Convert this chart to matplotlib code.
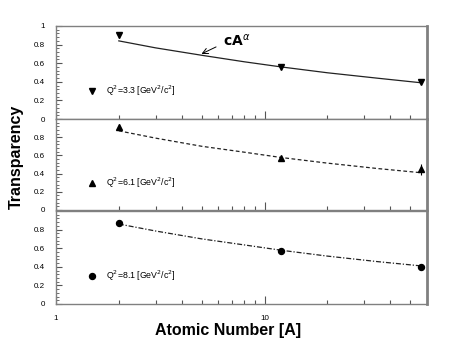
import matplotlib
matplotlib.use("Agg")
import matplotlib.pyplot as plt
from matplotlib.ticker import FixedLocator, MultipleLocator, NullFormatter
import numpy as np

# measured points
A_DATA = [2, 12, 56]
T_Q33 = [0.90, 0.56, 0.40]
E_Q33 = [0.03, 0.02, 0.02]
T_Q61 = [0.91, 0.57, 0.45]
E_Q61 = [0.03, 0.02, 0.06]
T_Q81 = [0.87, 0.57, 0.40]
E_Q81 = [0.02, 0.02, 0.02]

# cA^alpha curves
A_FIT = [2, 3, 5, 8, 12, 20, 35, 56]
FIT_Q33 = [0.84, 0.765, 0.685, 0.615, 0.560, 0.497, 0.438, 0.39]
FIT_Q61 = [0.87, 0.79, 0.70, 0.635, 0.577, 0.515, 0.455, 0.41]
FIT_Q81 = [0.86, 0.785, 0.70, 0.635, 0.578, 0.515, 0.455, 0.41]

LABELS = [r"Q$^2$=3.3 [GeV$^2$/c$^2$]",
          r"Q$^2$=6.1 [GeV$^2$/c$^2$]",
          r"Q$^2$=8.1 [GeV$^2$/c$^2$]"]

plt.rcParams.update({"font.family": ["Liberation Sans", "DejaVu Sans"]})

FRAME = "#808080"

fig = plt.figure(figsize=(4.55, 3.61), dpi=100)
left, width = 56 / 455, (427 - 56) / 455
tops = [26, 119, 211]
bots = [119, 210, 304]

panels = [
    (T_Q33, E_Q33, FIT_Q33, "v", 4.5, "-", LABELS[0]),
    (T_Q61, E_Q61, FIT_Q61, "^", 4.5, (0, (3, 2)), LABELS[1]),
    (T_Q81, E_Q81, FIT_Q81, "o", 4.3, (0, (4, 1.5, 1, 1.5)), LABELS[2]),
]

axes = []
for i, (t, e, fit, mk, ms, ls, lab) in enumerate(panels):
    ax = fig.add_axes([left, 1 - bots[i] / 361, width, (bots[i] - tops[i]) / 361])
    axes.append(ax)
    ax.set_xscale("log")
    ax.set_xlim(1, 60)
    ax.set_ylim(0, 1)

    ax.plot(A_FIT, fit, linestyle=ls, color="#222222", lw=0.9)
    ax.errorbar(A_DATA, t, yerr=e, fmt=mk, ms=ms, color="black",
                ecolor="black", elinewidth=0.8, capsize=0)

    ax.plot([1.49], [0.30], mk, ms=ms, color="black")
    ax.text(1.74, 0.30, lab, fontsize=6.3, va="center", ha="left")

    # ticks
    ax.xaxis.set_major_locator(FixedLocator([1, 10]))
    ax.xaxis.set_minor_locator(FixedLocator([2, 3, 4, 5, 6, 7, 8, 9, 20, 30, 40, 50]))
    ax.xaxis.set_minor_formatter(NullFormatter())
    ax.tick_params(axis="x", which="major", direction="in", length=6, width=0.8,
                   top=False, color="#555555", labelsize=5.8, pad=8)
    ax.tick_params(axis="x", which="minor", direction="in", length=3, width=0.8,
                   top=False, color="#555555")
    if i < 2:
        ax.set_xticklabels([])
    else:
        ax.set_xticklabels(["1", "10"])

    ax.yaxis.set_major_locator(MultipleLocator(0.2))
    ax.yaxis.set_minor_locator(MultipleLocator(0.04))
    ax.tick_params(axis="y", which="major", direction="in", length=4, width=0.8,
                   right=False, labelsize=5.8, pad=8, color="#555555")
    ax.tick_params(axis="y", which="minor", direction="in", length=2, width=0.6,
                   right=False, color="#555555")
    if i == 0:
        ax.set_yticks([0, 0.2, 0.4, 0.6, 0.8, 1.0])
        ax.set_yticklabels(["0", "0.2", "0.4", "0.6", "0.8", "1"])
    else:
        ax.set_yticks([0, 0.2, 0.4, 0.6, 0.8])
        ax.set_yticklabels(["0", "0.2", "0.4", "0.6", "0.8"])

    for side in ["left", "top", "bottom"]:
        ax.spines[side].set_color(FRAME)
        ax.spines[side].set_linewidth(1.0)
    ax.spines["right"].set_color(FRAME)
    ax.spines["right"].set_linewidth(2.0)

axes[0].text(6.3, 0.79, r"$\mathbf{cA}^{\alpha}$", fontsize=10, ha="left", va="baseline")
axes[0].annotate("", xy=(4.98, 0.70), xytext=(5.85, 0.775),
                 arrowprops=dict(arrowstyle="->", color="black", lw=0.7,
                                 shrinkA=0, shrinkB=0))

fig.text(16 / 455, 1 - 157 / 361, "Transparency", rotation=90, fontsize=11.5,
         fontweight="bold", ha="center", va="center")
fig.text(228 / 455, 1 - 331 / 361, "Atomic Number [A]", fontsize=11.5,
         fontweight="bold", ha="center", va="center")

fig.savefig("out.png", dpi=100)
